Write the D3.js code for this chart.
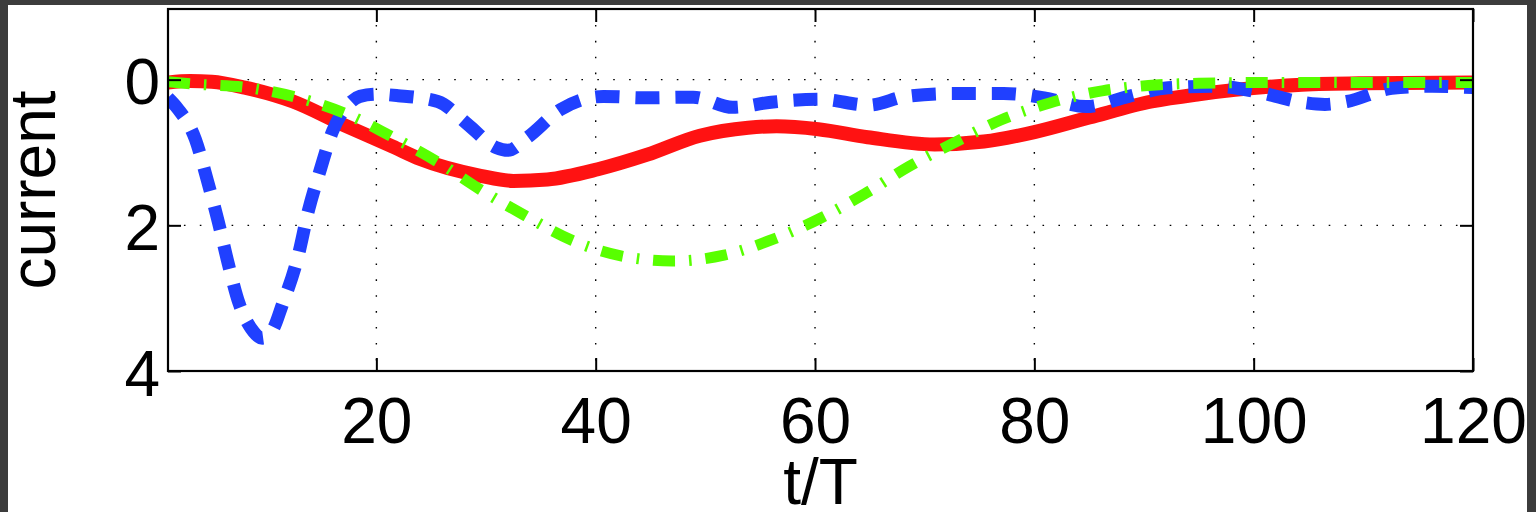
<!DOCTYPE html>
<html>
<head>
<meta charset="utf-8">
<script src="https://cdn.jsdelivr.net/npm/d3@7"></script>
<style>
  html, body { margin: 0; padding: 0; background: #3c3c3c; }
  svg { display: block; }
  text { font-family: "Liberation Sans", Arial, sans-serif; fill: #000; }
</style>
</head>
<body>
<svg id="chart" width="1536" height="512"></svg>
<script>
// Axis ticks
const xTicks = [20, 40, 60, 80, 100, 120];
const yTicks = [0, 2, 4];

// Series 1 (red, solid)
const redT = [1, 3, 5, 8, 12.4, 17, 21.5, 24, 29.5, 32.5, 35.6, 40.2, 44.7, 49.5, 53.9, 56.5, 60.3, 64.8, 70.9, 75.4, 80, 85, 90.7, 95, 98.3, 104.4, 110, 120];
const redI = [0.04, 0.02, 0.03, 0.11, 0.3, 0.62, 0.92, 1.09, 1.32, 1.39, 1.37, 1.23, 1.03, 0.77, 0.66, 0.64, 0.68, 0.79, 0.89, 0.85, 0.72, 0.52, 0.3, 0.2, 0.14, 0.07, 0.05, 0.04];

// Series 2 (blue, dashed)
const blueT = [1, 1.9, 3.5, 4.6, 5.6, 6.5, 7.5, 8.6, 9.6, 10.6, 11.4, 12.8, 13.8, 14.9, 16, 17.3, 18.5, 20, 22, 25.6, 28.3, 30.9, 32, 33.8, 36.8, 40.7, 44.6, 48.9, 52.5, 56, 60.5, 64.9, 68.3, 72.6, 77.2, 80.9, 84.7, 88.6, 92.2, 96.4, 100.7, 104.4, 106.5, 108.5, 112.6, 116.3, 120];
const blueI = [0.25, 0.4, 0.82, 1.39, 1.96, 2.53, 3.08, 3.42, 3.55, 3.42, 3.1, 2.46, 1.8, 1.23, 0.71, 0.37, 0.23, 0.2, 0.22, 0.3, 0.61, 0.93, 0.97, 0.79, 0.41, 0.23, 0.25, 0.24, 0.38, 0.31, 0.27, 0.35, 0.23, 0.19, 0.19, 0.25, 0.37, 0.23, 0.11, 0.09, 0.18, 0.31, 0.34, 0.3, 0.12, 0.09, 0.11];

// Series 3 (green, dash-dot)
const greenT = [1, 3.3, 8.3, 12.9, 17.4, 21.5, 25.7, 29.7, 33.6, 37.9, 42.3, 47, 51.7, 56.2, 60.4, 64.5, 68.6, 72.9, 77, 81.4, 86.3, 90.4, 95, 100, 110, 120];
const greenI = [0.03, 0.06, 0.11, 0.25, 0.48, 0.79, 1.14, 1.53, 1.87, 2.21, 2.42, 2.49, 2.41, 2.19, 1.91, 1.57, 1.19, 0.85, 0.55, 0.32, 0.15, 0.08, 0.05, 0.04, 0.04, 0.04];

const svg = d3.select("#chart");

// white page
svg.append("rect").attr("x", 8).attr("y", 5).attr("width", 1519).attr("height", 507).attr("fill", "#fff");

const L = 168, R = 1473, T = 9, B = 371;
const x = d3.scaleLinear().domain([1, 120]).range([L, R]);
const y = d3.scaleLinear().domain([-0.97, 4]).range([T, B]);

// dotted grid
const grid = svg.append("g").attr("stroke", "#000").attr("stroke-width", 1.4).attr("stroke-dasharray", "1.6,14.3");
grid.selectAll("line.gx").data(xTicks.filter(d => d < 120)).join("line")
  .attr("x1", d => x(d)).attr("x2", d => x(d)).attr("y1", T).attr("y2", B);
grid.selectAll("line.gy").data(yTicks.filter(d => d < 4)).join("line")
  .attr("x1", L).attr("x2", R).attr("y1", d => y(d)).attr("y2", d => y(d));

// curves
svg.append("clipPath").attr("id", "plotclip").append("rect")
  .attr("x", L).attr("y", T).attr("width", R - L + 3).attr("height", B - T);
const line = d3.line().x(d => x(d[0])).y(d => y(d[1])).curve(d3.curveMonotoneX);
const plot = svg.append("g").attr("clip-path", "url(#plotclip)").attr("fill", "none").attr("stroke-linejoin", "round");

plot.append("path").datum(d3.zip(redT, redI)).attr("d", line)
  .attr("stroke", "#ff1212").attr("stroke-width", 14);
plot.append("path").datum(d3.zip(blueT, blueI)).attr("d", line)
  .attr("stroke", "#2040ff").attr("stroke-width", 13).attr("stroke-dasharray", "24,16");
plot.append("path").datum(d3.zip(greenT, greenI)).attr("d", line)
  .attr("stroke", "#58ff00").attr("stroke-width", 11).attr("stroke-dasharray", "22,14,2.5,14");

// axes with inward ticks
const fontSize = 64;
const fmt = d3.format("d");
const gx = svg.append("g").attr("transform", `translate(0,${B})`)
  .call(d3.axisBottom(x).tickValues(xTicks).tickFormat(fmt).tickSizeInner(-13).tickSizeOuter(0).tickPadding(0));
gx.selectAll("text").attr("y", 72).attr("dy", null);
const gxTop = svg.append("g").attr("transform", `translate(0,${T})`)
  .call(d3.axisTop(x).tickValues(xTicks).tickSizeInner(-13).tickSizeOuter(0).tickFormat(""));
const gy = svg.append("g").attr("transform", `translate(${L},0)`)
  .call(d3.axisLeft(y).tickValues(yTicks).tickFormat(fmt).tickSizeInner(-13).tickSizeOuter(0).tickPadding(0));
gy.selectAll("text").attr("x", -8).attr("y", 24).attr("dy", null);
const gyR = svg.append("g").attr("transform", `translate(${R},0)`)
  .call(d3.axisRight(y).tickValues(yTicks).tickSizeInner(-13).tickSizeOuter(0).tickFormat(""));

[gx, gxTop, gy, gyR].forEach(g => {
  g.select(".domain").remove();
  g.selectAll("line").attr("stroke", "#000").attr("stroke-width", 2);
  g.selectAll("text").attr("font-size", fontSize).attr("font-family", "Liberation Sans, Arial, sans-serif").attr("fill", "#000");
});

// box
svg.append("rect").attr("x", L).attr("y", T).attr("width", R - L).attr("height", B - T)
  .attr("fill", "none").attr("stroke", "#000").attr("stroke-width", 2.2);

// axis titles
svg.append("text").attr("x", (L + R) / 2).attr("y", 504).attr("text-anchor", "middle")
  .attr("font-size", fontSize).text("t/T");
svg.append("text").attr("transform", `translate(55,${(T + B) / 2}) rotate(-90)`).attr("text-anchor", "middle")
  .attr("font-size", fontSize).text("current");
</script>
</body>
</html>
